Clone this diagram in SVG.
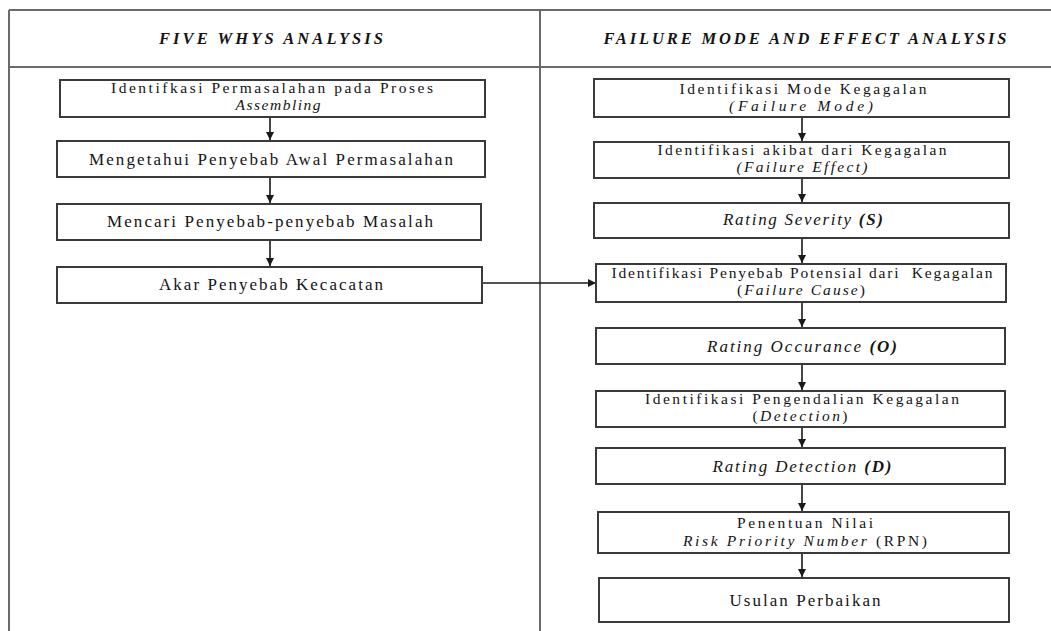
<svg xmlns="http://www.w3.org/2000/svg" width="1051" height="631" viewBox="0 0 1051 631">
  <style>
    .frame { stroke: #6a6a6a; stroke-width: 2; fill: none; }
    .box { fill: #ffffff; stroke: #3a3a3a; stroke-width: 2; }
    .lbl { font-family: "Liberation Serif", "Times New Roman", serif; font-size: 15.5px; fill: #141414; text-anchor: middle; }
    .one { font-size: 17px; }
    .hdr { font-family: "Liberation Serif", "Times New Roman", serif; font-size: 16.5px; font-weight: bold; font-style: italic; fill: #141414; text-anchor: middle; }
    .it { font-style: italic; }
    .bd { font-weight: bold; }
    .conn { stroke: #1a1a1a; stroke-width: 1.6; fill: none; marker-end: url(#arrow); }
  </style>
  <defs>
    <marker id="arrow" viewBox="0 0 10 10" refX="10" refY="5" markerWidth="5" markerHeight="5" orient="auto" markerUnits="strokeWidth">
      <path d="M0,0 L10,5 L0,10 z" fill="#1a1a1a"/>
    </marker>
  </defs>

  <rect width="1051" height="631" fill="#ffffff"/>

  <!-- table frame: header row and two columns -->
  <g id="frame">
    <line class="frame" x1="9" y1="10" x2="1051" y2="10"/>
    <line class="frame" x1="9" y1="67" x2="1051" y2="67"/>
    <line class="frame" x1="9" y1="10" x2="9" y2="631"/>
    <line class="frame" x1="540" y1="10" x2="540" y2="631"/>
    <text class="hdr" x="271" y="44" textLength="224" lengthAdjust="spacing">FIVE WHYS ANALYSIS</text>
    <text class="hdr" x="805" y="44" textLength="403" lengthAdjust="spacing">FAILURE MODE AND EFFECT ANALYSIS</text>
  </g>

  <!-- connectors -->
  <g id="connectors">
    <line class="conn" x1="270" y1="117" x2="270" y2="140"/>
    <line class="conn" x1="270" y1="177" x2="270" y2="203"/>
    <line class="conn" x1="270" y1="240" x2="270" y2="266"/>
    <line class="conn" x1="482" y1="283" x2="596" y2="283"/>
    <line class="conn" x1="802" y1="117" x2="802" y2="141"/>
    <line class="conn" x1="802" y1="178" x2="802" y2="202"/>
    <line class="conn" x1="802" y1="238" x2="802" y2="263"/>
    <line class="conn" x1="802" y1="302" x2="802" y2="327"/>
    <line class="conn" x1="802" y1="364" x2="802" y2="390"/>
    <line class="conn" x1="802" y1="427" x2="802" y2="447"/>
    <line class="conn" x1="802" y1="484" x2="802" y2="511"/>
    <line class="conn" x1="802" y1="553" x2="802" y2="577"/>
  </g>

  <!-- five whys column -->
  <g id="w1">
    <rect class="box" x="60" y="80" width="425" height="37"/>
    <text class="lbl" x="272" y="93" textLength="322" lengthAdjust="spacing">Identifkasi Permasalahan pada Proses</text>
    <text class="lbl it" x="278" y="110" textLength="85" lengthAdjust="spacing">Assembling</text>
  </g>
  <g id="w2">
    <rect class="box" x="57" y="141" width="428" height="36"/>
    <text class="lbl one" x="271" y="165" textLength="364" lengthAdjust="spacing">Mengetahui Penyebab Awal Permasalahan</text>
  </g>
  <g id="w3">
    <rect class="box" x="57" y="204" width="424" height="36"/>
    <text class="lbl one" x="270" y="227" textLength="326" lengthAdjust="spacing">Mencari Penyebab-penyebab Masalah</text>
  </g>
  <g id="w4">
    <rect class="box" x="57" y="267" width="425" height="36"/>
    <text class="lbl one" x="271" y="290" textLength="224" lengthAdjust="spacing">Akar Penyebab Kecacatan</text>
  </g>

  <!-- FMEA column -->
  <g id="f1">
    <rect class="box" x="594" y="79" width="415" height="38"/>
    <text class="lbl" x="803" y="94" textLength="247" lengthAdjust="spacing">Identifikasi Mode Kegagalan</text>
    <text class="lbl it" x="801" y="111" textLength="144" lengthAdjust="spacing">(Failure Mode)</text>
  </g>
  <g id="f2">
    <rect class="box" x="594" y="142" width="415" height="36"/>
    <text class="lbl" x="802" y="155" textLength="289" lengthAdjust="spacing">Identifikasi akibat dari Kegagalan</text>
    <text class="lbl it" x="802" y="172" textLength="131" lengthAdjust="spacing">(Failure Effect)</text>
  </g>
  <g id="f3">
    <rect class="box" x="594" y="203" width="415" height="35"/>
    <text class="lbl one it" x="803" y="225" textLength="160" lengthAdjust="spacing">Rating Severity <tspan class="bd">(S)</tspan></text>
  </g>
  <g id="f4">
    <rect class="box" x="596" y="264" width="410" height="38"/>
    <text class="lbl" x="802" y="278" textLength="381" lengthAdjust="spacing" style="white-space:pre">Identifikasi Penyebab Potensial dari  Kegagalan</text>
    <text class="lbl" x="801" y="295" textLength="128" lengthAdjust="spacing">(<tspan class="it">Failure Cause</tspan>)</text>
  </g>
  <g id="f5">
    <rect class="box" x="596" y="328" width="409" height="36"/>
    <text class="lbl one it" x="802" y="352" textLength="190" lengthAdjust="spacing">Rating Occurance <tspan class="bd">(O)</tspan></text>
  </g>
  <g id="f6">
    <rect class="box" x="596" y="391" width="409" height="36"/>
    <text class="lbl" x="802" y="404" textLength="314" lengthAdjust="spacing">Identifikasi Pengendalian Kegagalan</text>
    <text class="lbl" x="800" y="421" textLength="95" lengthAdjust="spacing">(<tspan class="it">Detection</tspan>)</text>
  </g>
  <g id="f7">
    <rect class="box" x="596" y="448" width="409" height="36"/>
    <text class="lbl one it" x="802" y="472" textLength="179" lengthAdjust="spacing">Rating Detection <tspan class="bd">(D)</tspan></text>
  </g>
  <g id="f8">
    <rect class="box" x="598" y="512" width="411" height="41"/>
    <text class="lbl" x="805" y="528" textLength="136" lengthAdjust="spacing">Penentuan Nilai</text>
    <text class="lbl" x="805" y="546" textLength="244" lengthAdjust="spacing"><tspan class="it">Risk Priority Number</tspan> (RPN)</text>
  </g>
  <g id="f9">
    <rect class="box" x="599" y="578" width="410" height="44"/>
    <text class="lbl one" x="805" y="606" textLength="151" lengthAdjust="spacing">Usulan Perbaikan</text>
  </g>
</svg>
